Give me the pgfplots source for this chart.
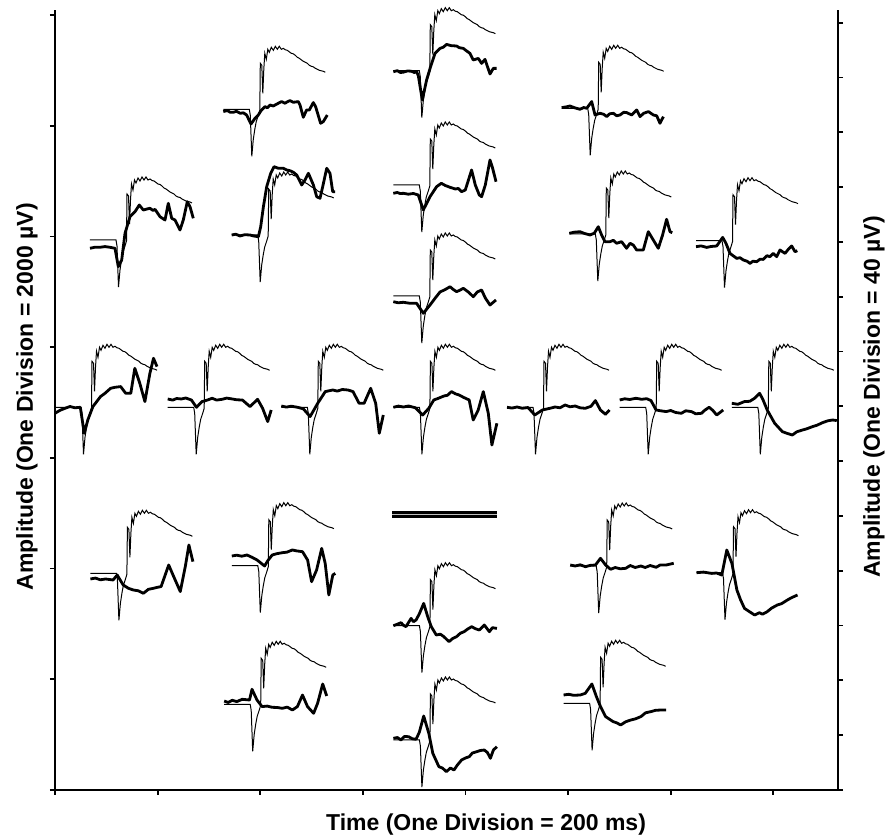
\documentclass[border=0pt]{standalone}
\usepackage{pgfplots}
\pgfplotsset{compat=1.18}
\usepackage{pgfplotstable}
\usepackage{fontspec}
\setmainfont{Liberation Sans}

% stimulus trace, same in every panel (dx dy from panel origin)
\pgfplotstableread{
dx dy
0 0
26 0
27 -6
28.5 -47
30 -30
31.5 -20
33 -12
35 -6
36.5 -1
37 46
38.5 44
39.5 16
40.5 40
41.5 56
43 50
44.5 60
46 57
48 62
50 59
52 63
54 60
56 63
58 60
60 61
62 59.5
64 59
66 57.5
68 56
70 55.5
72 54
74 52
76 51
78 49.5
80 48
82 47
84 46
86 44
88 43
90 42.5
92 41
94 40
96 39
98 38.5
100 38
102 37
}\stim

% responses
\pgfplotstableread{
dx dy
0 -2.3
4 -1.3
7 -3
10 -3
13 -2
17 -4
20 -3.5
23.3 -5.7
27.7 -14.7
31.7 -9
35 -5.7
38 -1
41.7 2.7
44 1.5
46.7 4.3
50 3.3
54 5.5
58.3 7.7
61.7 6
64 7.5
66.7 8.7
70 7
75 7.7
76.7 4.3
80 -8
83.3 -0.7
86 -0.7
90 6.7
92.3 2.7
97.3 -14
100 -12.3
104 -5.7
}\tA
\pgfplotstableread{
dx dy
0 -1
4 0
7 -1.8
10 -1.5
14 -0.3
18 -0.5
21 -1.8
23.3 -1
25 -5
29 -29.3
33.3 -9.3
37.3 4
41.7 17.3
46.7 22.3
50 23.5
53.3 26.3
58 25
63.3 24.7
66 23
70 22.3
73 20
76.7 17.3
80 10.7
85 12.3
88.3 7.3
91.7 11.3
96.7 -3.3
100 2.3
103.3 2.3
}\tB
\pgfplotstableread{
dx dy
0 0.7
5 1.5
8.3 2.3
13 0.5
18.3 -1
22 0.8
25 0
30 6.7
33.3 -6.7
38.3 -5
42 -6
45 -8.3
48 -5.5
51.7 -5
55 -7.5
58.3 -6.7
62 -4
65 -4.3
70 -6.7
75 -1.7
78.3 -8.3
82 -5
86.7 -3.3
91.7 -6.7
95 -7.5
98.3 -15
101.7 -8.3
}\tC
\pgfplotstableread{
dx dy
0 -8.3
5 -7.2
10 -7.3
15 -6.6
20 -7.3
25 -8.3
28.3 -26.7
31.7 -20
35 6.7
40 23.3
45 28.3
49.3 35
53.3 30
57 31
60 31.7
63 29.5
65 30.7
70 23.3
75 20
78.3 36.7
81.7 21.7
85 20
90 10
93.3 20
97.3 38.3
100 33.3
103.3 21.7
}\tD
\pgfplotstableread{
dx dy
0 0
4 0.8
8.3 -1
13 0.3
18.3 0
22 -1
26.7 -1.7
29 8.3
31.7 28.3
35 48.3
39 61.7
42.3 68.3
46.7 66.7
51.7 66.7
55 65
58.3 64.3
62 62.5
65 60
70 50
73.3 55
76.7 61.7
81.7 50
85 38.3
88.3 36.7
91 48.3
95 66.7
98.3 61.7
101 43.3
103.3 43.3
}\tE
\pgfplotstableread{
dx dy
0 -8.3
4 -7.5
7 -8.6
10 -8.3
15 -9.2
20 -8.5
25 -10
30 -25
36.7 -11.7
43.3 -1.7
48 1.7
52 -0.5
56.7 -2.3
62 -4
65 -3.5
68.3 -6.7
72 -5
78.3 15
82 0
86 -10
88.3 -11.7
92 0
96.7 25
99 18
102.7 3.3
}\tF
\pgfplotstableread{
dx dy
0 -5.7
5 -6.8
10 -6.3
16 -7.2
23.3 -7.3
30 -17.3
36.7 -9
42 -2
46.7 4
52 6.5
56.7 9.3
60 6.5
63.3 4.3
67 6
70 7.7
75 4
80 -0.7
84 4
88.3 6
92 -2
96.7 -9
102.7 -4
}\tG
\pgfplotstableread{
dx dy
0 0.7
5 1.8
10.7 2.3
15 0.6
20.7 -1
25 0.8
29 7.3
32.3 -1
35.7 -7.7
40.7 -7.7
44 -6.3
47.3 -9.3
52.3 -7.7
57.3 -14.3
60.7 -9.3
64 -11
67.3 -16
74 -16
79 2.3
84 -6
89 -14.3
93.3 -1
97.3 14.7
100.7 2.3
103 1.3
}\tH
\pgfplotstableread{
dx dy
0 -6
5 -5.2
10.7 -6.7
15 -5.8
20.7 -5.3
26.7 3.3
30 -2.7
34 -12.7
40.7 -17.7
44 -17
47.3 -19.3
51 -20.5
54 -22.7
57 -20.5
60.7 -21
64 -18.5
67.3 -18.7
71 -15
74 -16
77.3 -12.7
80.7 -16
84 -9.3
89 -12.7
92 -9
95.7 -5.3
99 -11
101.3 -10
}\tI
\pgfplotstableread{
dx dy
0 -6
5 -3
10.1 -1
15 0.8
20 -0.5
25.3 0
29.3 -26
32.8 -12.7
37.9 0.7
45.5 10.7
50 14
55.6 19
60 20
65.7 20.7
70.7 14
75.8 14
79.8 39
84.8 24
89.9 5.7
94.9 34
98.5 49
102 40.7
}\tJ
\pgfplotstableread{
dx dy
0 8.3
5 7.2
9 8.8
13.6 8.3
18 9.3
23.7 7.3
28.8 0
34.3 5.7
39 7
44.4 9
49 7.2
54.5 8
59 9.2
64.6 8.3
69 7.5
74.7 7.3
82.3 0.7
89.9 8
94.9 -1
100 -14.3
103.5 -2.7
}\tK
\pgfplotstableread{
dx dy
0 1.3
5 0.2
10 1.1
16.2 0
22 -1.5
28.8 -9.3
36.4 4
44 15.7
51.5 17.3
56 16.2
61 17.8
66.7 17.3
71.7 15.7
77.8 4
82.8 4
89.4 19
94.4 4
98 -26
102 -7.7
}\tL
\pgfplotstableread{
dx dy
0 0
5 1.2
10 0.3
15.2 1.3
22 -0.5
29.3 -7.7
35.4 -1
40.4 7.3
45 9
50.5 11.3
54 12
58.1 15.7
62 13.5
65.7 12.3
70 10
75.8 7.3
79.8 -12.7
84.8 -2.7
89.9 15.7
94.9 -6
98.5 -37.7
103.5 -16
}\tM
\pgfplotstableread{
dx dy
0 0
5 -0.8
10 0.3
15.2 -1
21 -0.2
27.8 -7.7
35.4 -2.7
42.9 -1
48 0.3
53 -0.5
58.1 2.3
63 0.5
68.2 1.3
73 -0.5
78.3 -1
84 1
88.4 6.7
93.4 -2.7
98.5 -7
102.5 -2.7
}\tN
\pgfplotstableread{
dx dy
0 7.3
5 8.5
10 7.8
16.2 9
22 8
27 8.6
31.3 6.7
36.4 -2.7
41 -3.5
46.5 -4.3
51 -3.2
56 -5.2
61.6 -6
66 -3.5
71.7 -4.3
76 -6.5
81.8 -6
85 -3
89.4 0
93 -3
97 -7.7
103.5 -2.7
}\tO
\pgfplotstableread{
dx dy
0 4
6 3
12.6 5.7
18 6
22.7 9
27.8 14
31 8
35.4 -2.7
42.9 -16
50.5 -24.3
55 -26
60.6 -27.7
65 -24.5
70.7 -22.7
75 -21.5
80.8 -19.3
85 -18
90.9 -15.3
96 -13.5
101 -12.7
105 -13.3
}\tP
\pgfplotstableread{
dx dy
0 -5.7
5 -4.8
10 -6.5
15.2 -5.7
22.7 -6.7
26.8 -1.7
32.8 -11.7
38 -15
42.9 -16.7
48 -17.5
53 -20
58 -16
63.1 -15
67 -14
70.7 -13.3
78.3 8.3
83.3 -3.3
89.9 -18.3
94.9 6.7
98.5 28.3
102.5 11.7
}\tQ
\pgfplotstableread{
dx dy
0 9.7
5 10.5
10 9.5
15.2 10.7
20 8.5
25.3 5.7
32.8 -0.3
36 5
40.4 10.7
45 12
50.5 13
55 13.5
60.6 15.7
65 14.8
70.7 14
75.8 5.7
79.8 -16
84.8 -4.3
89.9 17.3
93.4 2.3
97 -29.3
101 -9.3
103.5 -7.7
}\tR
\pgfplotstableread{
dx dy
0 0
4 1.5
7.6 3
10 0.5
12.6 -1
15 3
17.7 7.3
20 4
22.7 5.7
26 12
30.3 22.3
34.3 9
37.9 -1
42.9 -9.3
47 -8.5
50.5 -11
55.6 -16
59 -13
63.1 -11
67 -7.5
70.7 -6
74 -3.5
78.3 -1
82 -3
85.9 -4.3
90.9 0.7
96 -6
99 -2
103.5 -2.7
}\tS
\pgfplotstableread{
dx dy
0 1
5 0
10 1.2
15.2 -0.7
20 0.6
25.3 1
30.3 7.7
35.4 1
40.4 -3.3
45 -1.5
50 -2.8
55.6 -2.3
60 0.5
65 -1.5
70.7 0
75 -1.5
80 0.5
85.9 -1.3
90 1
96 1
103.5 2.7
}\tT
\pgfplotstableread{
dx dy
0 0
7 0.6
15.2 -0.7
20 -0.3
25.3 -2.3
30.3 22.7
35.4 9.3
40.4 -17.3
44 -27
48 -35.7
53 -39
58.1 -42.3
63 -40
66 -41.5
70.7 -39
75 -35.5
80.8 -32.3
85 -31
90.9 -27.3
95 -25
101 -22.3
}\tU
\pgfplotstableread{
dx dy
0 3.3
4 1.8
8 4
12.6 2.7
18 5
25.3 4.3
27.8 15
32.8 4.3
37.9 -2.3
43 -1.8
48 -3
53 -3.2
58.1 -4
63 -2.8
68.2 -5.7
73.2 -2.3
78.3 9.3
83.3 -2.3
89.4 -9
93.4 1
98.5 20.3
102.5 8.3
}\tV
\pgfplotstableread{
dx dy
0 1.7
4 2.5
7.6 0
11 3.5
15.2 3.3
19 1.2
22.7 0.7
26 8
30.3 24
35.4 6.7
39.4 -13.3
45.5 -26.7
49 -28
53 -31.7
57 -28
60.6 -30
64 -25
68.2 -20
72 -18
75.8 -16.7
79 -13
83.3 -11.7
87 -10.5
90.9 -10
94 -12.5
97 -18.3
100 -10
103.5 -6.7
}\tW
\pgfplotstableread{
dx dy
0 8.3
5 9
10 8
16.7 8.3
21.7 10
28.3 19.3
32.8 6.7
36.9 -3.3
42 -13.3
46 -16
49.5 -18.3
53 -19.5
57.1 -21.7
62 -18.5
67.2 -16.7
72 -15.5
77.3 -13.3
82 -9.5
87.4 -8.3
92 -7
97.5 -6.7
102.5 -6.7
}\tX

% one panel: response table, panel origin x, panel origin y
\newcommand{\panel}[3]{%
  \addplot[black, line width=0.5pt] table[x expr=\thisrow{dx}+#2, y expr=\thisrow{dy}+#3] {\stim};
  \addplot[black, line width=1.4pt, line join=round] table[x expr=\thisrow{dx}+#2, y expr=\thisrow{dy}+#3] {#1};
}

\pgfplotsset{
  frame/.style={
    at={(0,0)}, anchor=south west,
    scale only axis, width=391.5pt, height=390pt,
    xmin=0, xmax=783, ymin=0, ymax=780,
    axis line style={line width=1pt, -},
    tick align=outside, major tick length=2.5pt,
    every tick/.style={black, line width=0.9pt},
    xticklabels={}, yticklabels={},
    label style={font=\fontsize{11.5}{13.8}\selectfont\bfseries},
    clip=false,
  }
}

\begin{document}
\begin{tikzpicture}
\useasboundingbox (-27.5pt,-22.5pt) rectangle (420pt,395pt);
\begin{axis}[frame,
  axis x line*=bottom, axis y line*=left,
  xtick={0,102.6,205.2,307.8,410.4,513,615.6,718.2},
  ytick={0,110.7,221.4,332.1,442.8,553.5,664.2,774.9},
  xlabel={Time (One Division = 200 ms)},
  ylabel={Amplitude (One Division = 2000 µV)},
  xlabel style={at={(axis description cs:0.5505,-0.0513)}, anchor=base},
  ylabel style={at={(axis description cs:-0.0281,0.504)}, anchor=base},
]
\panel{\tA}{168.3}{680.7}
\panel{\tB}{338.3}{719.3}
\panel{\tC}{506.7}{681.7}
\panel{\tD}{35}{550}
\panel{\tE}{176.7}{555}
\panel{\tF}{338.3}{605}
\panel{\tG}{338.3}{494}
\panel{\tH}{514.3}{556}
\panel{\tI}{641}{549.3}
\panel{\tJ}{0}{382.7}
\panel{\tK}{112.7}{382.7}
\panel{\tL}{226.3}{382.7}
\panel{\tM}{338.4}{382.7}
\panel{\tN}{452}{382.7}
\panel{\tO}{564.7}{382.7}
\panel{\tP}{676.8}{382.7}
\panel{\tQ}{35.4}{216.7}
\panel{\tR}{176.8}{224.3}
\panel{\tS}{338.4}{164.3}
\panel{\tT}{515.2}{224}
\panel{\tU}{641.5}{217.3}
\panel{\tV}{169.2}{85.7}
\panel{\tW}{338.4}{50}
\panel{\tX}{508.6}{86.7}
% double bar
\addplot[black, line width=1.25pt] coordinates {(337.3,277.3) (442.3,277.3)};
\addplot[black, line width=1.25pt] coordinates {(337.3,273.3) (442.3,273.3)};
\addplot[gray!50, line width=0.7pt] coordinates {(337.3,275.3) (442.3,275.3)};
\end{axis}
\begin{axis}[frame,
  axis y line*=right, axis x line=none,
  xtick=\empty,
  ytick={0,54.8,109.6,164.4,219.2,274,328.8,383.6,438.4,493.2,548,602.8,657.6,712.4,767.2},
  ylabel={Amplitude (One Division = 40 µV)},
  ylabel style={at={(axis description cs:1.0536,0.504)}, anchor=base},
]
\end{axis}
\end{tikzpicture}
\end{document}
